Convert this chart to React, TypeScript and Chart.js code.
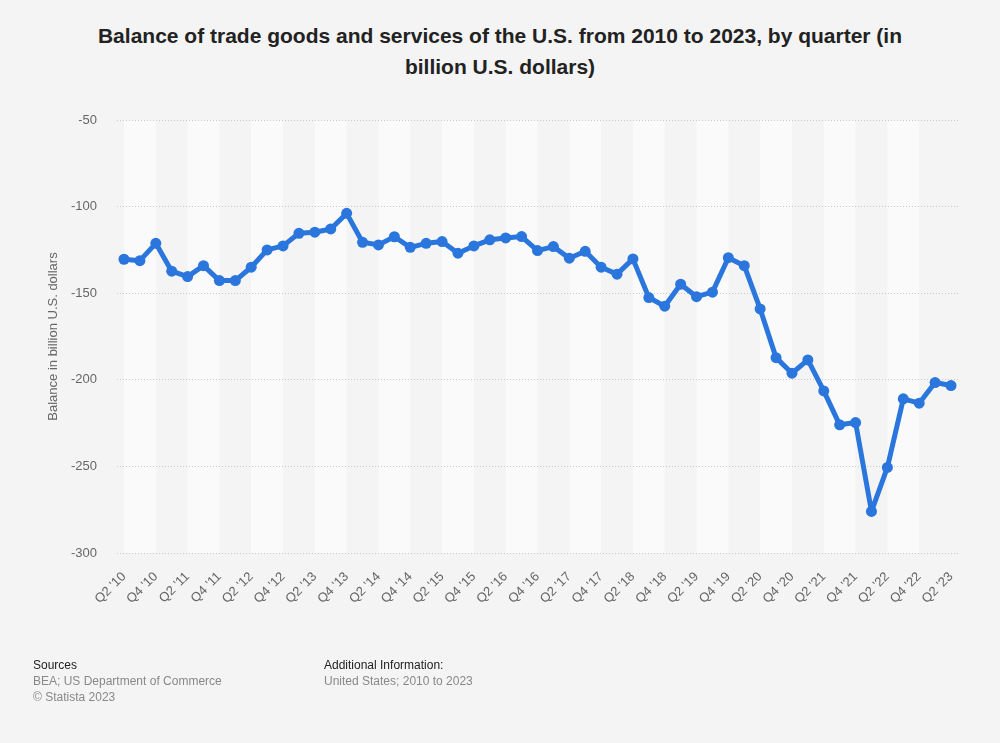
import React, { useEffect, useRef } from "react";
import { Chart, registerables } from "chart.js";

Chart.register(...registerables);

const categories = [
  "Q2 '10", "Q3 '10", "Q4 '10", "Q1 '11", "Q2 '11", "Q3 '11", "Q4 '11", "Q1 '12",
  "Q2 '12", "Q3 '12", "Q4 '12", "Q1 '13", "Q2 '13", "Q3 '13", "Q4 '13", "Q1 '14",
  "Q2 '14", "Q3 '14", "Q4 '14", "Q1 '15", "Q2 '15", "Q3 '15", "Q4 '15", "Q1 '16",
  "Q2 '16", "Q3 '16", "Q4 '16", "Q1 '17", "Q2 '17", "Q3 '17", "Q4 '17", "Q1 '18",
  "Q2 '18", "Q3 '18", "Q4 '18", "Q1 '19", "Q2 '19", "Q3 '19", "Q4 '19", "Q1 '20",
  "Q2 '20", "Q3 '20", "Q4 '20", "Q1 '21", "Q2 '21", "Q3 '21", "Q4 '21", "Q1 '22",
  "Q2 '22", "Q3 '22", "Q4 '22", "Q1 '23", "Q2 '23",
];

const balance = [
  -130.4, -131.2, -121.2, -137.3, -140.4, -134.1, -142.7, -142.7,
  -135.0, -125.0, -122.7, -115.4, -114.8, -112.9, -103.9, -120.6,
  -122.1, -117.4, -123.5, -121.2, -120.2, -126.9, -122.7, -119.2,
  -118.1, -117.3, -125.4, -123.1, -129.8, -125.8, -135.0, -139.0,
  -130.2, -152.5, -157.5, -144.8, -152.0, -149.4, -129.5, -134.1,
  -159.1, -187.2, -196.2, -188.5, -206.4, -226.0, -224.7, -276.0,
  -250.6, -211.0, -213.5, -201.6, -203.3,
];

const yMin = -300;
const yMax = -50;
const yStep = 50;

const FONT = "'Liberation Sans', Arial, Helvetica, sans-serif";

export default function App() {
  const ref = useRef<HTMLCanvasElement>(null);

  useEffect(() => {
    document.body.style.margin = "0";
    document.body.style.background = "#f4f4f4";
    const canvas = ref.current;
    if (!canvas) return;

    const bands = {
      id: "bands",
      beforeDraw(chart: any) {
        const { ctx, chartArea, scales } = chart;
        const x = scales.x;
        ctx.save();
        ctx.fillStyle = "#fafafa";
        for (let i = 0; i + 2 < categories.length; i += 4) {
          const a = x.getPixelForValue(i);
          const b = x.getPixelForValue(i + 2);
          ctx.fillRect(a, chartArea.top, b - a, chartArea.bottom - chartArea.top);
        }
        ctx.restore();
      },
    };

    const chart = new Chart(canvas, {
      type: "line",
      data: {
        datasets: [
          {
            data: balance.map((v, i) => ({ x: i, y: v })),
            borderColor: "#2a76dd",
            backgroundColor: "#2a76dd",
            borderWidth: 5,
            borderJoinStyle: "round",
            borderCapStyle: "round",
            pointRadius: 5.5,
            pointBackgroundColor: "#2a76dd",
            pointBorderWidth: 0,
            tension: 0,
          },
        ],
      },
      options: {
        responsive: false,
        animation: false,
        maintainAspectRatio: false,
        layout: { padding: { left: 40, right: 42, top: 120, bottom: 110 } },
        plugins: {
          legend: { display: false },
          tooltip: { enabled: false },
        },
        scales: {
          x: {
            type: "linear",
            min: -0.44,
            max: categories.length - 1 + 0.44,
            afterFit(scale: any) {
              scale.height = 80;
            },
            afterBuildTicks(scale: any) {
              const t: any[] = [];
              for (let i = 0; i < categories.length; i += 2) t.push({ value: i });
              scale.ticks = t;
            },
            grid: { display: false, drawTicks: false },
            border: { display: false },
            ticks: {
              autoSkip: false,
              minRotation: 45,
              maxRotation: 45,
              padding: 16,
              color: "#666",
              font: { family: FONT, size: 13 },
              callback: (v: any) => categories[v as number] ?? "",
            },
          },
          y: {
            min: yMin,
            max: yMax,
            afterFit(scale: any) {
              scale.width = 77;
            },
            ticks: {
              stepSize: yStep,
              padding: 20,
              color: "#666",
              font: { family: FONT, size: 13 },
            },
            grid: {
              color: "#c8c8c8",
              lineWidth: 1,
              drawTicks: false,
            },
            border: { display: false, dash: [1, 2] },
            title: {
              display: true,
              text: "Balance in billion U.S. dollars",
              color: "#666",
              font: { family: FONT, size: 13 },
              padding: { top: 6, bottom: 0 },
            },
          },
        },
      },
      plugins: [bands],
    });

    return () => chart.destroy();
  }, []);

  return (
    <div
      style={{
        position: "relative",
        width: 1000,
        height: 743,
        background: "#f4f4f4",
        fontFamily: FONT,
        overflow: "hidden",
      }}
    >
      <div
        style={{
          position: "absolute",
          top: 20,
          left: 0,
          width: 1000,
          textAlign: "center",
          fontWeight: "bold",
          fontSize: 21,
          lineHeight: "31px",
          color: "#222",
        }}
      >
        <div>Balance of trade goods and services of the U.S. from 2010 to 2023, by quarter (in</div>
        <div>billion U.S. dollars)</div>
      </div>
      <canvas
        ref={ref}
        width={1000}
        height={743}
        style={{ position: "absolute", top: 0, left: 0, width: 1000, height: 743 }}
      />
      <div style={{ position: "absolute", top: 657, left: 33, fontSize: 12, lineHeight: "16px" }}>
        <div style={{ color: "#222" }}>Sources</div>
        <div style={{ color: "#888" }}>BEA; US Department of Commerce</div>
        <div style={{ color: "#888" }}>© Statista 2023</div>
      </div>
      <div style={{ position: "absolute", top: 657, left: 324, fontSize: 12, lineHeight: "16px" }}>
        <div style={{ color: "#222" }}>Additional Information:</div>
        <div style={{ color: "#888" }}>United States; 2010 to 2023</div>
      </div>
    </div>
  );
}
